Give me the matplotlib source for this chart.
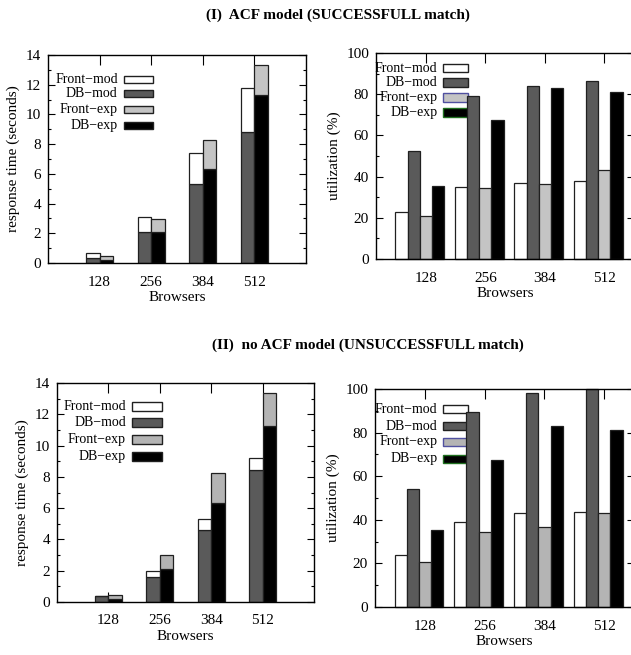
import matplotlib.pyplot as plt
import matplotlib as mpl
from matplotlib.patches import Rectangle
import numpy as np

browsers = ["128", "256", "384", "512"]

# (I) ACF model - response time (seconds), stacked DB + Front
rt_db_mod_1 = [0.36, 2.07, 5.35, 8.79]
rt_front_mod_1 = [0.31, 1.05, 2.07, 2.96]
rt_db_exp = [0.22, 2.09, 6.36, 11.28]
rt_front_exp = [0.23, 0.90, 1.91, 2.05]

# (I) ACF model - utilization (%)
ut_front_mod_1 = [22.8, 35.0, 36.8, 38.0]
ut_db_mod_1 = [52.2, 79.2, 84.0, 86.2]
ut_front_exp = [20.8, 34.5, 36.5, 43.0]
ut_db_exp = [35.3, 67.5, 83.0, 81.2]

# (II) no ACF model - response time (seconds)
rt_db_mod_2 = [0.36, 1.58, 4.62, 8.42]
rt_front_mod_2 = [0.04, 0.39, 0.70, 0.81]

# (II) no ACF model - utilization (%)
ut_front_mod_2 = [23.9, 39.2, 42.9, 43.5]
ut_db_mod_2 = [54.2, 89.4, 98.0, 100.0]

labels = ["Front\u2212mod", "DB\u2212mod", "Front\u2212exp", "DB\u2212exp"]
c_white, c_dark, c_black = "white", "#5a5a5a", "black"
edge = "#202020"

mpl.rcParams["font.family"] = ["Liberation Serif", "DejaVu Serif"]
mpl.rcParams["font.size"] = 11
mpl.rcParams["axes.linewidth"] = 1.0

W, H = 631, 655
fig = plt.figure(figsize=(W / 100, H / 100), dpi=100)


def px_axes(l, t, r, b):
    return fig.add_axes([l / W, (H - b) / H, (r - l) / W, (b - t) / H])


def style(ax, ymax, major, minor):
    ax.set_ylim(0, ymax)
    ax.set_yticks(np.arange(0, ymax + 0.1, major))
    ax.set_yticks(np.arange(0, ymax + 0.1, minor), minor=True)
    ax.set_xticks(range(len(browsers)))
    ax.set_xticklabels(browsers)
    ax.tick_params(axis="y", which="major", direction="in", length=5, width=0.8,
                   right=True, pad=5, labelsize=11)
    ax.tick_params(axis="y", which="minor", direction="in", length=2.5, width=0.8, right=True)
    ax.tick_params(axis="x", which="major", direction="in", length=7, width=0.8,
                   top=True, pad=9, labelsize=11)
    ax.set_xlabel("Browsers", fontsize=11, labelpad=2)
    for t in ax.get_xticklines() + ax.get_yticklines() + ax.yaxis.get_minorticklines():
        t.set_zorder(5)


def key(ax, x_txt, x0, x1, ys, h, colors, edges):
    for lab, y, c, ec in zip(labels, ys, colors, edges):
        ax.text(x_txt, y, lab, transform=ax.transAxes, ha="right", va="center", fontsize=10)
        ax.add_patch(Rectangle((x0, y - h / 2), x1 - x0, h, transform=ax.transAxes,
                               facecolor=c, edgecolor=ec, lw=1.0, zorder=1))


def stacked(ax, db_mod, fr_mod, db_exp, fr_exp, light):
    x = np.arange(len(browsers))
    w = 0.26
    ax.bar(x - w / 2, db_mod, w, color=c_dark, edgecolor=edge, lw=0.9, zorder=2)
    ax.bar(x - w / 2, fr_mod, w, bottom=db_mod, color=c_white, edgecolor=edge, lw=0.9, zorder=2)
    ax.bar(x + w / 2, db_exp, w, color=c_black, edgecolor=edge, lw=0.9, zorder=2)
    ax.bar(x + w / 2, fr_exp, w, bottom=db_exp, color=light, edgecolor=edge, lw=0.9, zorder=2)
    ax.set_xlim(-1, 4)
    style(ax, 14, 2, 1)
    ax.set_ylabel("response time (seconds)", fontsize=11, labelpad=4)


def grouped(ax, fr_mod, db_mod, fr_exp, db_exp, light):
    x = np.arange(len(browsers))
    w = 0.205
    for off, vals, c in [(-2 * w, fr_mod, c_white), (-w, db_mod, c_dark),
                         (0, fr_exp, light), (w, db_exp, c_black)]:
        ax.bar(x + off, vals, w, color=c, edgecolor=edge, lw=0.9, zorder=2, clip_on=False)
    ax.set_xlim(-0.84, 3.50)
    style(ax, 100, 20, 10)
    ax.spines["right"].set_visible(False)
    ax.set_ylabel("utilization (%)", fontsize=11, labelpad=4)


ax1 = px_axes(48, 55, 306, 263)
stacked(ax1, rt_db_mod_1, rt_front_mod_1, rt_db_exp, rt_front_exp, "#c4c4c4")
key(ax1, 0.27, 0.295, 0.407, [0.882, 0.815, 0.738, 0.661], 0.035,
    [c_white, c_dark, "#c4c4c4", c_black], [edge] * 4)

ax2 = px_axes(376, 53, 634, 259)
grouped(ax2, ut_front_mod_1, ut_db_mod_1, ut_front_exp, ut_db_exp, "#c4c4c4")
key(ax2, 0.2375, 0.26, 0.356, [0.927, 0.856, 0.783, 0.711], 0.042,
    [c_white, c_dark, "#c4c4c4", c_black], [edge, edge, "#5050a0", "#207020"])

ax3 = px_axes(57, 383, 314, 602)
stacked(ax3, rt_db_mod_2, rt_front_mod_2, rt_db_exp, rt_front_exp, "#b4b4b4")
key(ax3, 0.268, 0.292, 0.409, [0.894, 0.821, 0.743, 0.665], 0.04,
    [c_white, c_dark, "#b4b4b4", c_black], [edge] * 4)

ax4 = px_axes(375, 389, 634, 607)
grouped(ax4, ut_front_mod_2, ut_db_mod_2, ut_front_exp, ut_db_exp, "#b4b4b4")
key(ax4, 0.240, 0.263, 0.359, [0.908, 0.830, 0.757, 0.679], 0.04,
    [c_white, c_dark, "#b4b4b4", c_black], [edge, edge, "#5050a0", "#207020"])

fig.text(338 / W, 1 - 15 / H, "(I)  ACF model (SUCCESSFULL match)", ha="center", va="center",
         fontsize=11, fontweight="bold")
fig.text(368 / W, 1 - 345 / H, "(II)  no ACF model (UNSUCCESSFULL match)", ha="center", va="center",
         fontsize=11, fontweight="bold")

fig.savefig("out.png", dpi=100)
